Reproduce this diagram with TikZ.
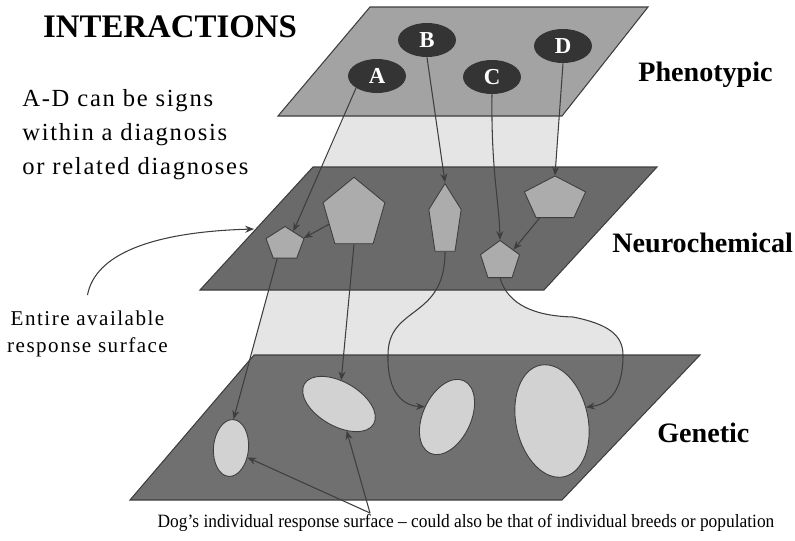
\documentclass[tikz,border=0pt]{standalone}
\usepackage{fontspec}
\setmainfont{Liberation Serif}
\newfontfamily\widefont[LetterSpace=7]{Liberation Serif}
\usetikzlibrary{arrows.meta, shapes.geometric}
\definecolor{phengray}{RGB}{163,163,163}
\definecolor{bandgray}{RGB}{229,229,229}
\definecolor{neurogray}{RGB}{106,106,106}
\definecolor{genegray}{RGB}{112,112,112}
\definecolor{pentgray}{RGB}{172,172,172}
\definecolor{ovalgray}{RGB}{210,210,210}
\definecolor{signgray}{RGB}{52,52,52}
\definecolor{edgegray}{RGB}{62,62,62}
\newcommand{\pxu}{0.02cm}

\begin{document}
\begin{tikzpicture}[x=0.02cm, y=-0.02cm,
  plane/.style={draw=edgegray, line width=0.6pt},
  sign/.style={ellipse, fill=signgray, text=white, font=\fontsize{13}{13}\selectfont\bfseries,
    minimum width=58*\pxu, minimum height=34*\pxu, inner sep=0pt},
  pent/.style={regular polygon, regular polygon sides=5, draw=edgegray, fill=pentgray,
    line width=0.5pt, inner sep=0pt},
  oval/.style={ellipse, draw=edgegray, fill=ovalgray, line width=0.5pt, inner sep=0pt},
  conn/.style={draw=edgegray, line width=0.6pt, -{Stealth[length=5pt,width=4pt]}},
  layer/.style={font=\fontsize{16}{16}\selectfont\bfseries, anchor=base west, inner sep=0pt}]
  \useasboundingbox (0,0) rectangle (795,541);

  % light columns between the surfaces
  \fill[bandgray] (346.7,112) -- (559.6,112) -- (555.4,171) -- (320.6,171) -- cycle;
  \fill[bandgray] (272.4,277) -- (500,277.6) .. controls (508,305) and (535,316) .. (573,317)
    .. controls (608,324) and (623,335) .. (623,355) -- (251.2,355) -- cycle;

  % the three surfaces
  \filldraw[plane, fill=phengray] (278,116) -- (562,116) -- (648,7) -- (370,7) -- cycle;
  \filldraw[plane, fill=neurogray] (200,290) -- (544,290) -- (657,167) -- (313,167) -- cycle;
  \filldraw[plane, fill=genegray] (130,500) -- (562,500) -- (700,355) -- (254,355) -- cycle;

  \node[sign] (A) at (377,76) {A};
  \node[sign] (B) at (427,40) {B};
  \node[sign] (C) at (492,77) {C};
  \node[sign] (D) at (563,46) {D};

  \node[pent, minimum size=35*\pxu, xscale=1.14] (p1) at (285,244) {};
  \node[pent, minimum size=65*\pxu, yscale=1.13] (p2) at (354,214) {};
  \node[pent, minimum size=34*\pxu, yscale=2.2] (p3) at (445,221) {};
  \node[pent, minimum size=46*\pxu, xscale=1.4] (p4) at (555,199) {};
  \node[pent, minimum size=41*\pxu] (p5) at (500,261) {};

  \node[oval, minimum width=35*\pxu, minimum height=57*\pxu, rotate=-5] (e1) at (231,448) {};
  \node[oval, minimum width=80*\pxu, minimum height=44*\pxu, rotate=-30] (e2) at (339,404) {};
  \node[oval, minimum width=48*\pxu, minimum height=80*\pxu, rotate=-25] (e3) at (447,417) {};
  \node[oval, minimum width=72*\pxu, minimum height=114*\pxu, rotate=12] (e4) at (552,421) {};

  \node[font=\fontsize{18.7}{20}\selectfont\bfseries, anchor=base] (title) at (170,37) {INTERACTIONS};
  \node[font=\widefont\fontsize{14}{19.3}\selectfont, align=left, anchor=north west, inner sep=0pt]
    (signs) at (22,89) {A-D can be signs\\within a diagnosis\\or related diagnoses};
  \node[font=\widefont\fontsize{12}{15.3}\selectfont, align=center, anchor=north, inner xsep=0pt,
    inner ysep=8.8pt] (entire) at (87.5,295) {Entire available\\response surface};
  \node[layer] (phen) at (638,81) {Phenotypic};
  \node[layer] (neuro) at (612,252) {Neurochemical};
  \node[layer] (gene) at (657,442) {Genetic};
  \node[font=\fontsize{10.7}{12}\selectfont, xscale=0.925, anchor=base] (dog) at (466,527)
    {Dog’s individual response surface -- could also be that of individual breeds or population};
  \coordinate (rim) at (254,229);
  \coordinate (fork) at (370,513);

  \draw[conn] (A.-150) -- (p1.60);
  \draw[conn] (B.south) -- (p3.north);
  \draw[conn] (C.south) .. controls (491,170) and (499,200) .. (p5.north);
  \draw[conn] (D.south) -- (p4.north);
  \draw[conn] (p2.200) -- (p1.20);
  \draw[conn] (p4.-120) -- (p5.40);
  \draw[conn] (entire.north) .. controls (95,255) and (150,232) .. (rim);
  \draw[conn] (p1.-115) -- (e1.north);
  \draw[conn] (p2.south) -- (e2);
  \draw[conn] (p3.south) .. controls (445,320) and (388,305) .. (388,355)
    .. controls (387,395) and (405,406) .. (e3.west);
  \draw[conn] (p5.south) .. controls (508,305) and (535,316) .. (573,317)
    .. controls (608,324) and (623,335) .. (623,355) .. controls (623,390) and (610,404) .. (e4.10);
  \draw[conn] (fork) -- (e1.-25);
  \draw[conn] (fork) -- (e2);
\end{tikzpicture}
\end{document}
